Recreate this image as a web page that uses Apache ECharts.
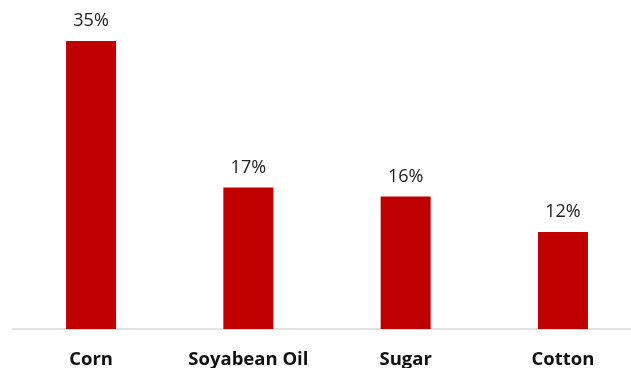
<!DOCTYPE html>
<html><head><meta charset="utf-8">
<script src="https://cdn.jsdelivr.net/npm/echarts@6/dist/echarts.min.js"></script>
<style>html,body{margin:0;padding:0;background:#fff}#c{width:631px;height:368px}</style>
</head><body><div id="c"></div>
<script>
const categories = ["Corn", "Soyabean Oil", "Sugar", "Cotton"];
const values = [35, 17.2, 16.1, 11.8];

const chart = echarts.init(document.getElementById('c'), null, {renderer: 'canvas'});
chart.setOption({
  animation: false,
  grid: {left: 12.4, width: 629.2, top: 41, bottom: 39, containLabel: false, outerBoundsMode: 'none'},
  xAxis: {
    type: 'category', data: categories,
    axisLine: {lineStyle: {color: '#d9d9d9', width: 1.5}},
    axisTick: {show: false},
    axisLabel: {color: '#111', fontSize: 18.5, fontWeight: 'bold', fontFamily: 'Open Sans', margin: 21}
  },
  yAxis: {type: 'value', min: 0, max: 35, show: false, splitLine: {show: false}},
  series: [{
    type: 'bar', data: values, barWidth: 50,
    itemStyle: {color: '#c00000'},
    label: {show: true, position: 'top', distance: 11, color: '#222', fontSize: 18, fontFamily: 'Open Sans',
      formatter: p => Math.round(p.value) + '%'}
  }]
});
</script></body></html>
